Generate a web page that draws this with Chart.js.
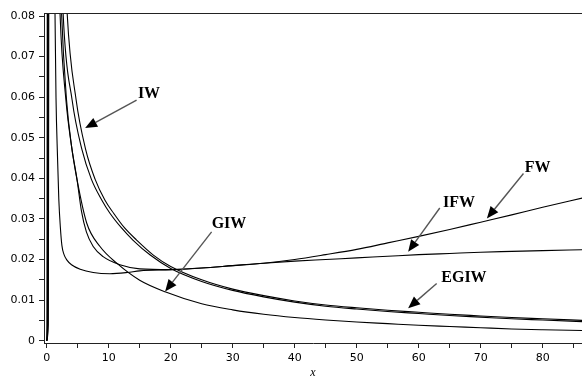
<!DOCTYPE html>
<html>
<head>
<meta charset="utf-8">
<title>Hazard rate functions</title>
<script src="https://cdn.jsdelivr.net/npm/chart.js@4.4.1/dist/chart.umd.min.js"></script>
<style>
  html, body { margin: 0; padding: 0; background: #fff; }
  canvas { display: block; }
</style>
</head>
<body>
<canvas id="hazardChart" width="582" height="381"></canvas>
<script>
// hazard rate h(x) of each model, as x / h(x) pairs
const fwX = [0, 0.05, 0.15, 1.34, 1.5, 1.75, 1.95, 2.2, 2.45, 2.8, 3.3, 4.0, 5.4, 7.5, 10.2, 13, 15, 20, 25, 30, 35, 40, 45, 50, 55, 60, 65, 70, 75, 80, 86.5];
const fwY = [0, 0.004, 0.2, 0.0807, 0.06, 0.045, 0.035, 0.028, 0.0235, 0.0212, 0.0198, 0.0187, 0.0176, 0.0168, 0.0165, 0.0168, 0.0172, 0.0175, 0.0179, 0.0185, 0.0191, 0.02, 0.0212, 0.0225, 0.0241, 0.0257, 0.0274, 0.0292, 0.031, 0.0329, 0.0352];

const ifwX = [0, 0.1, 0.2, 2.15, 3.1, 4.0, 4.9, 5.6, 6.4, 7.5, 9.1, 11.8, 15, 20, 25, 30, 35, 40, 45, 50, 55, 60, 65, 70, 75, 80, 86.5];
const ifwY = [0, 0.004, 0.2, 0.0807, 0.0593, 0.048, 0.0396, 0.032, 0.0268, 0.0232, 0.0207, 0.0187, 0.0177, 0.0175, 0.0179, 0.0185, 0.0191, 0.0196, 0.02, 0.0204, 0.0208, 0.0212, 0.0215, 0.0218, 0.022, 0.0222, 0.0224];

const giwX = [0, 0.15, 0.25, 2.4, 3.2, 4.0, 4.9, 6.45, 8.6, 11.3, 15, 19.2, 25, 30, 35, 40, 45, 50, 55, 60, 65, 70, 75, 80, 86.5];
const giwY = [0, 0.004, 0.2, 0.0807, 0.0593, 0.048, 0.0396, 0.029, 0.0232, 0.0191, 0.0149, 0.012, 0.0091, 0.0076, 0.0065, 0.0057, 0.0051, 0.0046, 0.0042, 0.0038, 0.0035, 0.0032, 0.0029, 0.0027, 0.0025];

const egiwX = [0, 0.2, 0.35, 2.65, 4.1, 5.7, 7.2, 8.9, 10.2, 12, 13.9, 16.7, 20, 25, 30, 35, 40, 45, 50, 55, 60, 65, 70, 75, 80, 86.5];
const egiwY = [0, 0.004, 0.2, 0.0807, 0.0593, 0.047, 0.0398, 0.0346, 0.0314, 0.0279, 0.0248, 0.0211, 0.0178, 0.0146, 0.0124, 0.0108, 0.0095, 0.0085, 0.0078, 0.0072, 0.0067, 0.0062, 0.0058, 0.0054, 0.0051, 0.0047];

const iwX = [0, 0.25, 0.45, 3.3, 4.75, 6.3, 7.8, 9.4, 10.8, 12.5, 14.5, 17.2, 20, 25, 30, 35, 40, 45, 50, 55, 60, 65, 70, 75, 80, 86.5];
const iwY = [0, 0.004, 0.2, 0.0807, 0.0593, 0.047, 0.0398, 0.0346, 0.0314, 0.0279, 0.0248, 0.0211, 0.0183, 0.015, 0.0127, 0.0111, 0.0098, 0.0088, 0.0081, 0.0075, 0.007, 0.0065, 0.0061, 0.0057, 0.0054, 0.005];

// axis ticks (minor ones get no label)
const xTicks = [0, 5, 10, 15, 20, 25, 30, 35, 40, 45, 50, 55, 60, 65, 70, 75, 80, 85];
const yTicks = [0, 0.005, 0.01, 0.015, 0.02, 0.025, 0.03, 0.035, 0.04, 0.045, 0.05, 0.055, 0.06, 0.065, 0.07, 0.075, 0.08];

// curve names with arrows: text centre, arrow start and arrow tip, in data units
const arrowNotes = [
    { text: 'IW',   at: [16.5, 0.0608], from: [14.5, 0.0593], to: [6.2, 0.0524] },
    { text: 'GIW',  at: [29.4, 0.0287], from: [26.6, 0.0268], to: [19.1, 0.0121] },
    { text: 'IFW',  at: [66.5, 0.0339], from: [63.4, 0.0327], to: [58.3, 0.0219] },
    { text: 'FW',   at: [79.2, 0.0427], from: [76.9, 0.0412], to: [71.0, 0.0301] },
    { text: 'EGIW', at: [67.3, 0.0156], from: [62.9, 0.0141], to: [58.3, 0.0080] }
];

const toPoints = (xs, ys) => xs.map((x, i) => ({ x: x, y: ys[i] }));

const curve = (label, xs, ys) => ({
    label: label,
    data: toPoints(xs, ys),
    borderColor: '#000',
    borderWidth: 1.1,
    pointRadius: 0,
    fill: false,
    cubicInterpolationMode: 'monotone'
});

// top frame line plus the arrow annotations
const arrowPlugin = {
    id: 'arrowNotes',
    afterDatasetsDraw(chart) {
        const { ctx, chartArea } = chart;
        const xs = chart.scales.x;
        const ys = chart.scales.y;
        ctx.save();

        ctx.strokeStyle = '#222';
        ctx.lineWidth = 1;
        ctx.beginPath();
        ctx.moveTo(chartArea.left, chartArea.top + 0.5);
        ctx.lineTo(chartArea.right, chartArea.top + 0.5);
        ctx.stroke();

        arrowNotes.forEach(n => {
            const sx = xs.getPixelForValue(n.from[0]);
            const sy = ys.getPixelForValue(n.from[1]);
            const ex = xs.getPixelForValue(n.to[0]);
            const ey = ys.getPixelForValue(n.to[1]);
            const ang = Math.atan2(ey - sy, ex - sx);
            const headLen = 12;
            const headW = 5;
            const bx = ex - headLen * Math.cos(ang);
            const by = ey - headLen * Math.sin(ang);

            ctx.strokeStyle = '#555';
            ctx.lineWidth = 1.4;
            ctx.beginPath();
            ctx.moveTo(sx, sy);
            ctx.lineTo(bx, by);
            ctx.stroke();

            ctx.fillStyle = '#000';
            ctx.beginPath();
            ctx.moveTo(ex, ey);
            ctx.lineTo(bx + headW * Math.sin(ang), by - headW * Math.cos(ang));
            ctx.lineTo(bx - headW * Math.sin(ang), by + headW * Math.cos(ang));
            ctx.closePath();
            ctx.fill();

            ctx.font = 'bold 16px "Liberation Serif"';
            ctx.textAlign = 'center';
            ctx.textBaseline = 'middle';
            ctx.fillText(n.text, xs.getPixelForValue(n.at[0]), ys.getPixelForValue(n.at[1]));
        });
        ctx.restore();
    }
};

const tickFont = { family: 'DejaVu Sans', size: 11 };

new Chart(document.getElementById('hazardChart'), {
    type: 'line',
    data: {
        datasets: [
            curve('FW', fwX, fwY),
            curve('IFW', ifwX, ifwY),
            curve('GIW', giwX, giwY),
            curve('EGIW', egiwX, egiwY),
            curve('IW', iwX, iwY)
        ]
    },
    options: {
        responsive: false,
        animation: false,
        devicePixelRatio: 1,
        layout: { padding: { top: 13, right: 0, left: 0, bottom: 0 } },
        plugins: {
            legend: { display: false },
            tooltip: { enabled: false }
        },
        scales: {
            x: {
                type: 'linear',
                min: -0.435,
                max: 86.34,
                afterFit: (scale) => { scale.height = 38; },
                afterBuildTicks: (scale) => { scale.ticks = xTicks.map(v => ({ value: v })); },
                grid: { drawOnChartArea: false, drawTicks: true, tickLength: 5, tickColor: '#222' },
                border: { display: true, color: '#222', width: 1 },
                ticks: {
                    autoSkip: false,
                    maxRotation: 0,
                    padding: 4,
                    color: '#000',
                    font: tickFont,
                    callback: (v) => (v % 10 === 0 ? String(v) : '')
                },
                title: {
                    display: true,
                    text: 'x',
                    color: '#000',
                    font: { family: 'Liberation Serif', size: 12, style: 'italic' },
                    padding: { top: 0, bottom: 1 }
                }
            },
            y: {
                min: -0.000567,
                max: 0.08074,
                afterFit: (scale) => { scale.width = 44; },
                afterBuildTicks: (scale) => { scale.ticks = yTicks.map(v => ({ value: v })); },
                grid: { drawOnChartArea: false, drawTicks: true, tickLength: 5, tickColor: '#222' },
                border: { display: true, color: '#222', width: 1 },
                ticks: {
                    padding: 4,
                    color: '#000',
                    font: tickFont,
                    callback: (v) => {
                        const c = v * 100;
                        return Math.abs(c - Math.round(c)) < 1e-6 ? String(+v.toFixed(2)) : '';
                    }
                }
            }
        }
    },
    plugins: [arrowPlugin]
});
</script>
</body>
</html>
